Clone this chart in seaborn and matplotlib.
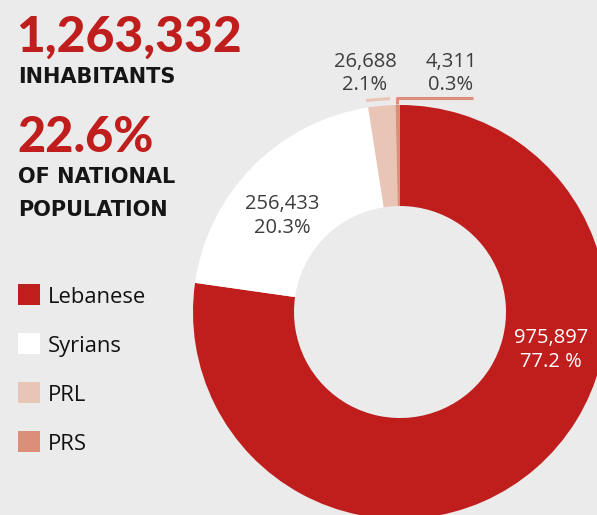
import matplotlib
matplotlib.use("Agg")
import matplotlib.pyplot as plt
import seaborn as sns
import pandas as pd

# ---- data ----
categories = ["Lebanese", "Syrians", "PRL", "PRS"]
values = [975897, 256433, 26688, 4311]
value_labels = ["975,897", "256,433", "26,688", "4,311"]
pct_labels = ["77.2 %", "20.3%", "2.1%", "0.3%"]
total_label = "1,263,332"
total_caption = "INHABITANTS"
share_label = "22.6%"
share_caption = ["OF NATIONAL", "POPULATION"]

colors = ["#c01d1d", "#ffffff", "#e8c5b5", "#db8f79"]
BG = "#ebebeb"

df = pd.DataFrame({"group": categories, "value": values})

sns.set_theme(style="white", rc={"axes.facecolor": BG, "figure.facecolor": BG})
plt.rcParams["font.family"] = ["Lato", "DejaVu Sans"]

fig = plt.figure(figsize=(5.97, 5.15), dpi=100)
ax = fig.add_axes([0, 0, 1, 1])
ax.set_facecolor(BG)

# pixel-like coordinate system (y down); counterclock in data == clockwise on screen
ax.pie(df["value"], colors=sns.color_palette(colors), startangle=-90, counterclock=True,
       center=(400, 312), radius=207,
       wedgeprops=dict(width=101, edgecolor="none", linewidth=0))
ax.set_xlim(0, 597)
ax.set_ylim(515, 0)
ax.set_aspect("equal")
ax.axis("off")

# headline texts
cap_font = dict(fontsize=15, fontweight="bold", color="#151515", ha="left", va="baseline",
                family=["DejaVu Sans"])
ax.text(16, 52, total_label, fontsize=35.8, fontweight="black", color="#c01d1d", ha="left", va="baseline")
ax.text(18, 83, total_caption, **cap_font)
ax.text(17, 152, share_label, fontsize=35, fontweight="black", color="#c01d1d", ha="left", va="baseline")
ax.text(18, 183, share_caption[0], **cap_font)
ax.text(18, 216, share_caption[1], **cap_font)

# legend
for i, (cat, col) in enumerate(zip(categories, colors)):
    y = 294 + i * 49
    ax.add_patch(plt.Rectangle((18, y - 10.5), 22, 21, facecolor=col, edgecolor="none"))
    ax.text(48, y + 9, cat, fontsize=15.8, fontweight="medium", color="#111111", ha="left", va="baseline",
            family=["Open Sans", "DejaVu Sans"])

# slice labels
lab_font = dict(fontsize=14.5, ha="center", va="baseline", family=["Open Sans", "DejaVu Sans"])
GREY = "#3d3d3d"
ax.text(551, 343, value_labels[0], color="white", **lab_font)
ax.text(551, 367, pct_labels[0], color="white", **lab_font)
ax.text(282, 209, value_labels[1], color=GREY, **lab_font)
ax.text(282, 233, pct_labels[1], color=GREY, **lab_font)
ax.text(365, 67, value_labels[2], color=GREY, **lab_font)
ax.text(365, 90, pct_labels[2], color=GREY, **lab_font)
ax.text(451, 67, value_labels[3], color=GREY, **lab_font)
ax.text(451, 90, pct_labels[3], color=GREY, **lab_font)

# leader lines
ax.plot([366, 378, 390], [100.5, 99.5, 98.5], color=colors[2], lw=2.2, solid_capstyle="butt")
ax.plot([473, 396.5, 396.5], [98, 98, 104], color=colors[3], lw=2.2, solid_capstyle="butt")

fig.savefig("out.png", dpi=100, facecolor=BG)
